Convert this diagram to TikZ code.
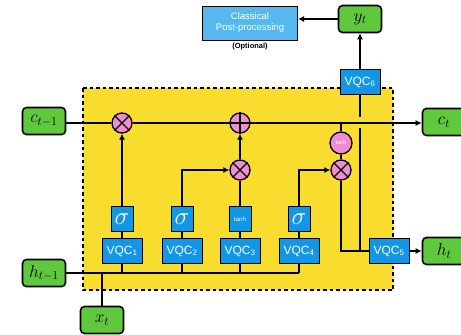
\documentclass[tikz,border=0pt]{standalone}
\usepackage{fontspec}
\setmainfont{Liberation Sans}
\usetikzlibrary{arrows.meta}

\definecolor{cellyellow}{RGB}{249,221,46}
\definecolor{iogreen}{RGB}{96,200,60}
\definecolor{qblue}{RGB}{20,150,230}
\definecolor{postblue}{RGB}{85,185,240}
\definecolor{oppink}{RGB}{240,140,210}

\begin{document}
\begin{tikzpicture}[x=1pt, y=-1pt,
    wire/.style={line width=1.6pt},
    arr/.style={wire, -{Latex[length=6pt,width=6pt]}},
    io/.style={draw, line width=1.6pt, fill=iogreen, rounded corners=4pt, minimum width=43pt, minimum height=27pt, inner sep=0pt, font=\LARGE},
    vqc/.style={draw, line width=1pt, fill=qblue, text=white, minimum width=40pt, minimum height=25pt, inner sep=0pt, font=\fontsize{12}{12}\selectfont},
    act/.style={draw, line width=1pt, fill=qblue, text=white, minimum width=22pt, minimum height=25pt, inner sep=0pt},
    sig/.style={act, font=\fontsize{32}{32}\selectfont},
    op/.style={circle, draw, line width=1.3pt, fill=oppink, minimum size=20pt, inner sep=0pt}]
    \useasboundingbox (0,0) rectangle (461,335);

    % Cell
    \draw[fill=cellyellow, line width=1.6pt, dash pattern=on 3.5pt off 3pt] (83,88) rectangle (393,290);

    % Inputs and outputs
    \node[io] (cprev) at (44,121) {$c_{t-1}$};
    \node[io] (hprev) at (44,273) {$h_{t-1}$};
    \node[io] (xt) at (102,320) {$x_t$};
    \node[io] (ct) at (444,122) {$c_t$};
    \node[io] (ht) at (444,251) {$h_t$};
    \node[io] (yt) at (360,19) {$y_t$};

    % Post-processing
    \node[draw, line width=1pt, fill=postblue, text=white, minimum width=95pt, minimum height=34pt, inner sep=0pt, align=center, font=\fontsize{9.5}{11}\selectfont] (post) at (250,23) {Classical\\Post-processing};
    \node[font=\bfseries\fontsize{7.5}{8}\selectfont] (opt) at (250,47) {(Optional)};

    % VQC blocks
    \node[vqc] (v1) at (122,251) {VQC\textsubscript{1}};
    \node[vqc] (v2) at (182,251) {VQC\textsubscript{2}};
    \node[vqc] (v3) at (240,251) {VQC\textsubscript{3}};
    \node[vqc] (v4) at (299,251) {VQC\textsubscript{4}};
    \node[vqc] (v5) at (389,251) {VQC\textsubscript{5}};
    \node[vqc] (v6) at (360,82) {VQC\textsubscript{6}};

    % Activations
    \node[sig] (s1) at (122,219) {$\sigma$};
    \node[sig] (s2) at (182,219) {$\sigma$};
    \node[act, font=\fontsize{6}{6}\selectfont] (t3) at (240,219) {tanh};
    \node[sig] (s4) at (299,219) {$\sigma$};

    % Operations
    \node[op] (m1) at (122,123) {};
    \node[op] (add) at (240,123) {};
    \node[op] (m2) at (240,170) {};
    \node[op] (m3) at (341,170) {};
    \node[op, minimum size=22pt, text=white, font=\fontsize{5.5}{6}\selectfont] (tc) at (341,143) {tanh};
    \draw[line width=1.3pt] (m1.45) -- (m1.225) (m1.135) -- (m1.315);
    \draw[line width=1.3pt] (m2.45) -- (m2.225) (m2.135) -- (m2.315);
    \draw[line width=1.3pt] (m3.45) -- (m3.225) (m3.135) -- (m3.315);
    \draw[line width=1.3pt] (add.north) -- (add.south) (add.east) -- (add.west);

    % Cell state
    \draw[wire] (cprev.east |- m1) -- (m1.west);
    \draw[wire] (m1.east) -- (add.west);
    \draw[arr] (add.east) -- (ct.west |- add);
    \draw[wire] (tc |- add) -- (tc.north);
    \draw[wire] (tc.south) -- (m3.north);

    % Gates
    \draw[arr] (s1.north) -- (m1.south);
    \draw[arr] (s2.north) |- (m2.west);
    \draw[wire] (t3.north) -- (m2.south);
    \draw[arr] (m2.north) -- (add.south);
    \draw[arr] (s4.north) |- (m3.west);
    \foreach \i/\s in {v1/s1, v2/s2, v3/t3, v4/s4}
        \draw[wire] (\i.north) -- (\s.south);

    % Hidden state and input
    \coordinate (hend) at (v4 |- hprev);
    \draw[wire] (hprev.east) -- (hend);
    \foreach \i in {v1, v2, v3, v4}
        \draw[wire] (\i.south) -- (\i |- hprev);
    \draw[wire] (xt.north) -- (xt |- hprev);

    % Output
    \coordinate (jn) at (v6 |- v5.west);
    \coordinate (gaplo) at (360,128);
    \coordinate (gaphi) at (360,117);
    \draw[wire] (m3.south) |- (v5.west);
    \draw[wire] (jn) -- (gaplo);
    \draw[wire] (gaphi) -- (v6.south);
    \draw[arr] (v5.east) -- (ht.west);
    \draw[arr] (v6.north) -- (yt.south);
    \draw[arr] (yt.west) -- (post.east |- yt.west);
\end{tikzpicture}
\end{document}
